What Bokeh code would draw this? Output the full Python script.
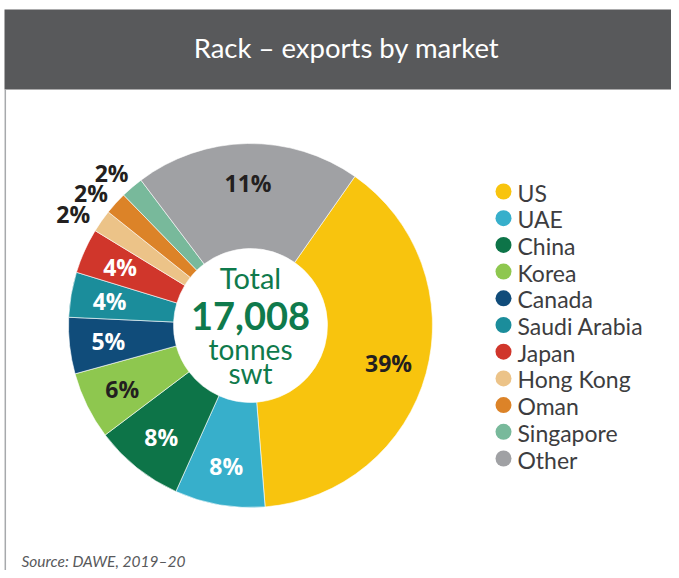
import math
from bokeh.plotting import figure
from bokeh.models import Range1d, ColumnDataSource
from bokeh.core.properties import value
from bokeh.embed import file_html
from bokeh.resources import INLINE

# ---- data ----
markets = ["US", "UAE", "China", "Korea", "Canada", "Saudi Arabia", "Japan",
           "Hong Kong", "Oman", "Singapore", "Other"]
shares = [39, 8, 8, 6, 5, 4, 4, 2, 2, 2, 20]          # slice sizes as drawn
share_labels = ["39%", "8%", "8%", "6%", "5%", "4%", "4%", "2%", "2%", "2%", "11%"]
colors = ["#f8c40e", "#37afcb", "#0d7448", "#8ec74f", "#104c7a", "#1b8d9b",
          "#d0362b", "#ecc388", "#dc8328", "#78b99b", "#a0a1a4"]
label_colors = ["#231f20", "#ffffff", "#ffffff", "#231f20", "#ffffff", "#ffffff",
                "#ffffff", "#231f20", "#231f20", "#231f20", "#231f20"]
outside = [False, False, False, False, False, False, False, True, True, True, False]
title = "Rack \u2013 exports by market"
total_lines = ["Total", "17,008", "tonnes", "swt"]
source_text = "Source: DAWE, 2019\u201320"

W, H = 671, 570
def px(x): return x
def py(y): return H - y

p = figure(width=W, height=H, output_backend="svg", toolbar_location=None,
           x_range=Range1d(0, W), y_range=Range1d(0, H), min_border=0,
           tools="")
p.axis.visible = False
p.grid.visible = False
p.outline_line_color = None
p.background_fill_color = "white"
p.border_fill_color = "white"

# header
p.quad(left=4, right=W, bottom=py(89), top=py(9), fill_color="#58595b", line_color=None)
p.segment(x0=[4.8], y0=[py(89)], x1=[4.8], y1=[0], line_color="#a7a9ac", line_width=1.5)
p.text(x=[px(346)], y=[py(47)], text=[title], text_align="center",
       text_baseline="middle", text_color="white",
       text_font=value("Lato"), text_font_size="27.5px")

# donut
cx, cy = px(250), py(325)
r_in, r_out = 77, 182
start_deg = 35.0
total = float(sum(shares))
a0s, a1s = [], []
cum = 0.0
for v in shares:
    a0 = start_deg + 360.0 * cum / total
    cum += v
    a1 = start_deg + 360.0 * cum / total
    a0s.append(a0); a1s.append(a1)

src = ColumnDataSource(dict(
    start=[math.radians(90 - a) for a in a0s],
    end=[math.radians(90 - a) for a in a1s],
    color=colors))
p.annular_wedge(x=cx, y=cy, inner_radius=r_in, outer_radius=r_out,
                start_angle="start", end_angle="end", direction="clock",
                fill_color="color", line_color="white", line_width=0.6, source=src)

# slice labels
in_x, in_y, in_t, in_c = [], [], [], []
out_mid = [ (a0 + a1) / 2 for a0, a1, o in zip(a0s, a1s, outside) if o ]
out_centre = sum(out_mid) / len(out_mid)
out_x, out_y, out_t = [], [], []
for a0, a1, lab, col, o in zip(a0s, a1s, share_labels, label_colors, outside):
    mdeg = (a0 + a1) / 2
    if o:
        # fan the small outside labels slightly apart
        mdeg = out_centre + 0.8 + (mdeg - out_centre) * 1.15
        m = math.radians(mdeg)
        r = 195
        out_x.append(cx + r * math.sin(m)); out_y.append(cy + r * math.cos(m)); out_t.append(lab)
    else:
        m = math.radians(mdeg)
        r = 143
        in_x.append(cx + r * math.sin(m)); in_y.append(cy + r * math.cos(m))
        in_t.append(lab); in_c.append(col)
p.text(x=in_x, y=in_y, text=in_t, text_color=in_c, text_align="center",
       text_baseline="middle", text_font=value("Open Sans"), text_font_style="bold",
       text_font_size="23px")
p.text(x=out_x, y=out_y, text=out_t, text_color="#231f20", text_align="right",
       text_baseline="middle", text_font=value("Open Sans"), text_font_style="bold",
       text_font_size="23px")

# centre text
green = "#0f7a4c"
p.text(x=[cx], y=[py(277)], text=[total_lines[0]], text_align="center", text_color=green,
       text_baseline="middle", text_font=value("Lato"), text_font_size="29px")
p.text(x=[cx], y=[py(315)], text=[total_lines[1]], text_align="center", text_color=green,
       text_baseline="middle", text_font=value("Lato"), text_font_style="bold",
       text_font_size="38px")
p.text(x=[cx, cx], y=[py(348), py(372)], text=total_lines[2:], text_align="center",
       text_color=green, text_baseline="middle", text_font=value("Lato"),
       text_font_size="28px")

# legend
ly = [py(191 + i * 26.7) for i in range(len(markets))]
p.circle(x=[px(503)] * len(markets), y=ly, radius=8, fill_color=colors, line_color=None)
p.text(x=[px(517)] * len(markets), y=[v - 1 for v in ly], text=markets,
       text_baseline="middle", text_color="#3d3d3f", text_font=value("Lato"),
       text_font_size="23px")

# source
p.text(x=[px(21)], y=[py(560)], text=[source_text], text_baseline="middle",
       text_color="#58595b", text_font=value("Lato"), text_font_style="italic",
       text_font_size="15.5px")

open("out.html", "w").write(file_html(p, INLINE))
